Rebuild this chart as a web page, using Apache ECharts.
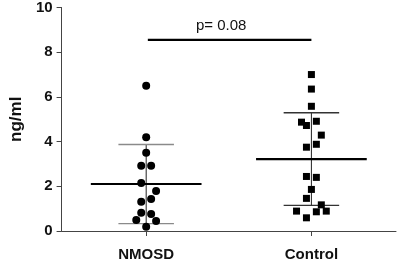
<!DOCTYPE html>
<html>
<head>
<meta charset="utf-8">
<script src="https://cdn.jsdelivr.net/npm/echarts@6/dist/echarts.min.js"></script>
<style>
  html, body { margin: 0; padding: 0; background: #fff; }
  #main { width: 397px; height: 266px; }
</style>
</head>
<body>
<div id="main"></div>
<script>
// groups
var categories = ['NMOSD', 'Control'];
// values (ng/ml)
var nmosdValues = [6.5, 4.2, 3.5, 2.92, 2.92, 2.15, 1.79, 1.31, 1.43, 0.82, 0.76, 0.49, 0.45, 0.19];
var controlValues = [7.0, 6.35, 5.58, 4.87, 4.72, 4.91, 4.29, 3.75, 3.88, 2.44, 2.40, 1.86, 1.46, 1.17, 0.89, 0.86, 0.89, 0.59];
// jitter slots (side-by-side placement of overlapping dots)
var nmosdSlots = [0, 0, 0, -1, 1, -1, 2, -1, 1, -1, 1, -2, 2, 0];
var controlSlots = [0, 0, 0, -2, -1, 1, 2, -1, 1, -1, 1, 0, -1, 2, -3, 1, 3, -1];
var yTicks = [0, 2, 4, 6, 8, 10];
var pText = 'p= 0.08';

var slotW = 0.03;     // x units per jitter slot
var meanHalf = 0.335; // half width of mean bar
var sdHalf = 0.168;   // half width of sd caps

function mean(a) {
  var s = 0;
  a.forEach(function (v) { s += v; });
  return s / a.length;
}
function sd(a) {
  var m = mean(a), s = 0;
  a.forEach(function (v) { s += (v - m) * (v - m); });
  return Math.sqrt(s / (a.length - 1));
}

function dots(values, slots, gi) {
  return values.map(function (v, i) { return [gi + slots[i] * slotW, v]; });
}

function summarySeries(values, gi, capColor) {
  var m = mean(values), s = sd(values);
  var base = { type: 'line', symbol: 'none', silent: true, animation: false, z: 1 };
  return [
    Object.assign({}, base, { data: [[gi, m - s], [gi, m + s]], lineStyle: { color: '#222', width: 1 } }),
    Object.assign({}, base, { data: [[gi - sdHalf, m + s], [gi + sdHalf, m + s]], lineStyle: { color: capColor, width: 1.3 } }),
    Object.assign({}, base, { data: [[gi - sdHalf, m - s], [gi + sdHalf, m - s]], lineStyle: { color: capColor, width: 1.3 } }),
    Object.assign({}, base, { data: [[gi - meanHalf, m], [gi + meanHalf, m]], lineStyle: { color: '#000', width: 2.2 } })
  ];
}

var chart = echarts.init(document.getElementById('main'));

var series = []
  .concat(summarySeries(nmosdValues, 0, '#8a8a8a'))
  .concat(summarySeries(controlValues, 1, '#333'))
  .concat([
    {
      name: categories[0], type: 'scatter', symbol: 'circle', symbolSize: 8,
      itemStyle: { color: '#000', opacity: 1 }, z: 3, data: dots(nmosdValues, nmosdSlots, 0)
    },
    {
      name: categories[1], type: 'scatter', symbol: 'rect', symbolSize: 7,
      itemStyle: { color: '#000', opacity: 1 }, z: 3, data: dots(controlValues, controlSlots, 1)
    },
    {
      // significance bar
      type: 'line', symbol: 'none', silent: true, z: 2,
      data: [[0.01, 8.55], [1.0, 8.55]],
      lineStyle: { color: '#000', width: 2.4 }
    }
  ]);

chart.setOption({
  animation: false,
  textStyle: { fontFamily: 'Liberation Sans, Arial, sans-serif' },
  grid: { left: 56, right: 1, top: 6, bottom: 35, containLabel: false },
  xAxis: {
    type: 'value',
    min: -0.512,
    max: 1.512,
    splitLine: { show: false },
    axisLine: { onZero: false, lineStyle: { color: '#444', width: 1 } },
    axisTick: { show: true, customValues: [0, 1], length: 5, inside: false, lineStyle: { color: '#444' } },
    axisLabel: {
      customValues: [0, 1],
      formatter: function (v) { return categories[Math.round(v)]; },
      color: '#111', fontSize: 15, fontWeight: 'bold', margin: 16
    }
  },
  yAxis: {
    type: 'value',
    min: yTicks[0],
    max: yTicks[yTicks.length - 1],
    interval: 2,
    name: 'ng/ml',
    nameLocation: 'middle',
    nameGap: 34,
    nameTextStyle: { color: '#111', fontSize: 17, fontWeight: 'bold' },
    splitLine: { show: false },
    axisLine: { show: true, onZero: false, lineStyle: { color: '#444', width: 1 } },
    axisTick: { show: true, length: 5, lineStyle: { color: '#444' } },
    axisLabel: { color: '#111', fontSize: 15, fontWeight: 'bold', margin: 9 }
  },
  graphic: [{
    type: 'text', left: 196, top: 18,
    style: { text: pText, fontSize: 15, fill: '#111', fontFamily: 'Liberation Sans, Arial, sans-serif' }
  }],
  series: series
});
</script>
</body>
</html>
